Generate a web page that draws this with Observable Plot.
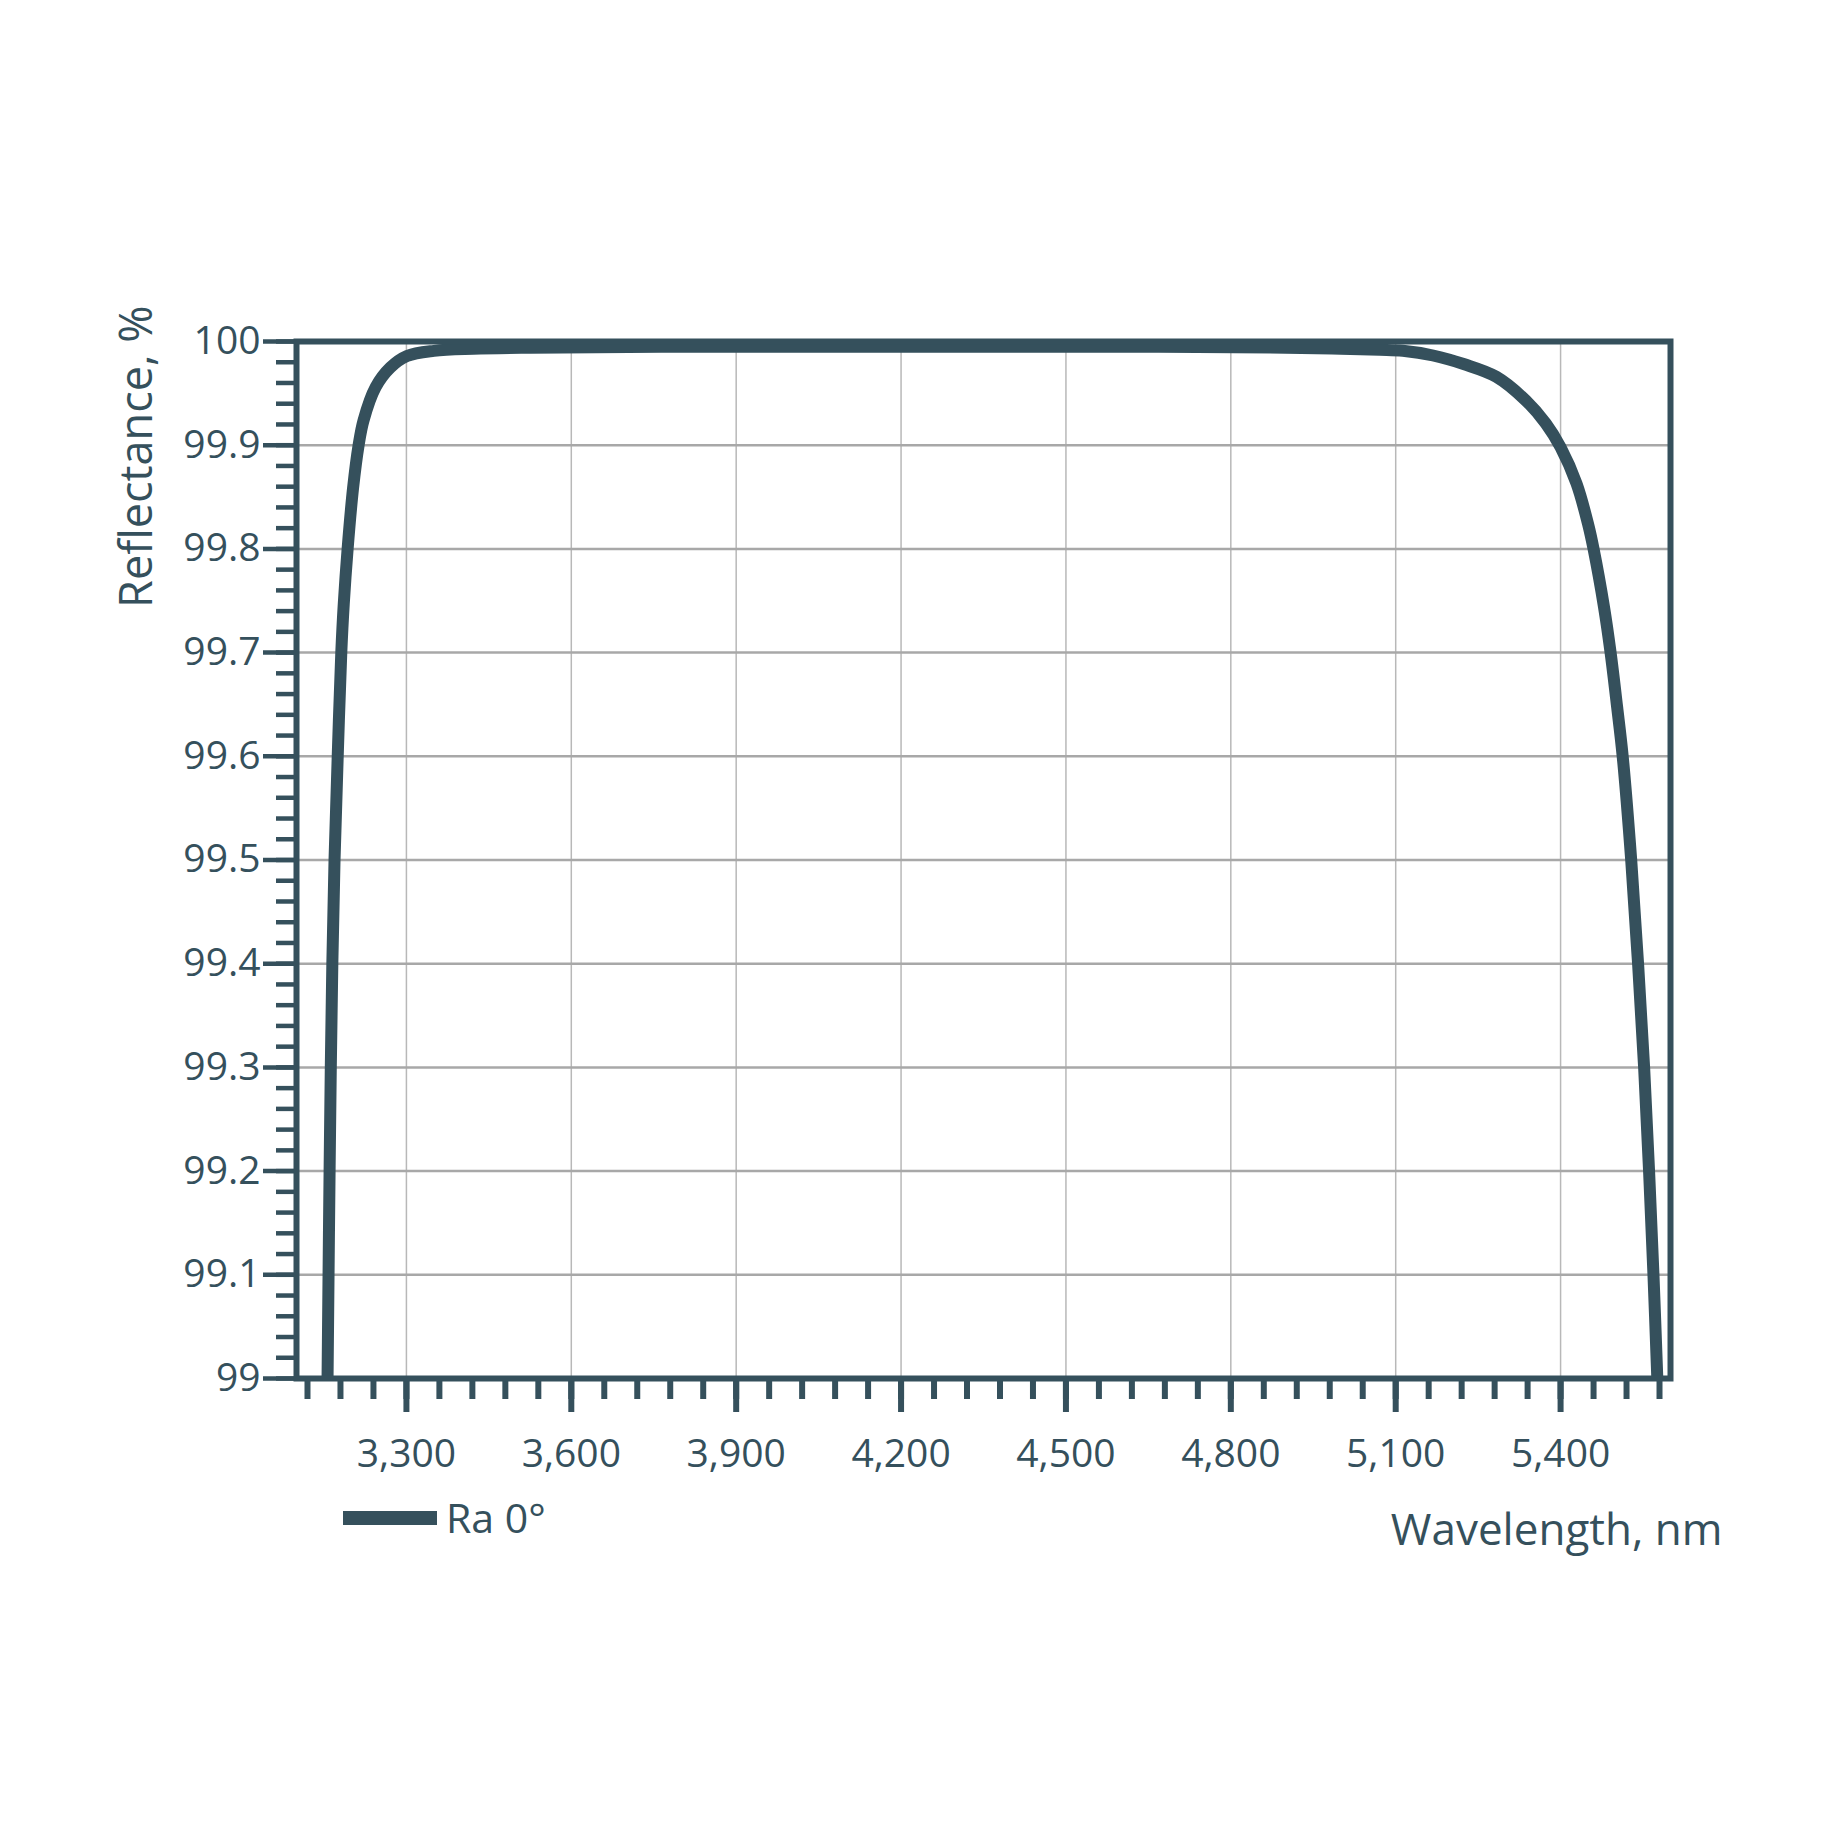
<!DOCTYPE html>
<html>
<head>
<meta charset="utf-8">
<script src="https://cdn.jsdelivr.net/npm/d3@7"></script>
<script src="https://cdn.jsdelivr.net/npm/@observablehq/plot@0.6"></script>
<style>
  html, body { margin: 0; padding: 0; background: #ffffff; overflow: hidden; }
  #wrap { position: relative; width: 1848px; height: 1848px; }
  #legend { position: absolute; left: 343px; top: 1497px; display: flex; align-items: center; gap: 9px;
            font-family: "Open Sans", sans-serif; font-size: 41px; line-height: 1; color: #35505c; }
  #legend .sw { width: 94px; height: 14px; background: #35505c; }
</style>
</head>
<body>
<div id="wrap"><div id="legend"><span class="sw"></span><span id="legendText"></span></div></div>
<script>
const ink = "#35505c";

// Series "Ra 0°": wavelength (nm) and reflectance (%)
const wavelength = [3156.5, 3158.3, 3160.2, 3162.4, 3165.2, 3169.2, 3175, 3181.5, 3186, 3193, 3203, 3213, 3222, 3244, 3271, 3301, 3350, 3422, 3525, 3800, 4200, 4600, 4900, 5000, 5071, 5113, 5168, 5225, 5283, 5337, 5373, 5400, 5429, 5450, 5460, 5479, 5491, 5503, 5513, 5528.5, 5541, 5552, 5561, 5569, 5576];
const reflectance = [99.0, 99.1, 99.2, 99.3, 99.4, 99.5, 99.6, 99.7, 99.747, 99.8, 99.859, 99.9, 99.924, 99.956, 99.975, 99.986, 99.991, 99.993, 99.994, 99.995, 99.995, 99.995, 99.994, 99.993, 99.992, 99.991, 99.9865, 99.978, 99.966, 99.943, 99.921, 99.898, 99.863, 99.824, 99.8, 99.744, 99.7, 99.647, 99.6, 99.5, 99.4, 99.3, 99.2, 99.1, 99.0];

const seriesName = "Ra 0°";
const xTitle = "Wavelength, nm";
const yTitle = "Reflectance, %";

const xDomain = [3100, 5600];
const yDomain = [99, 100];
const xMajorTicks = [3300, 3600, 3900, 4200, 4500, 4800, 5100, 5400];
const xMinorTicks = d3.range(3120, 5581, 60);
const yMajorTicks = [99, 99.1, 99.2, 99.3, 99.4, 99.5, 99.6, 99.7, 99.8, 99.9, 100];
const yMinorTicks = d3.range(0, 51).map(i => 99 + i * 0.02);

const data = wavelength.map((w, i) => ({w, r: reflectance[i]}));

const chart = Plot.plot({
  width: 1848,
  height: 1848,
  marginLeft: 296,
  marginRight: 178,
  marginTop: 341,
  marginBottom: 470,
  style: {fontFamily: "'Open Sans', sans-serif", color: ink, background: "transparent"},
  x: {domain: xDomain},
  y: {domain: yDomain},
  marks: [
    Plot.gridX(xMajorTicks, {stroke: "#b8b8b8", strokeWidth: 1.5, strokeOpacity: 1}),
    Plot.gridY(yMajorTicks.slice(1, -1), {stroke: "#a8a8a8", strokeWidth: 2.5, strokeOpacity: 1}),
    Plot.axisX(xMinorTicks, {tickSize: 21, strokeWidth: 6, stroke: ink, text: null, label: null}),
    Plot.axisX(xMajorTicks, {tickSize: 34, tickPadding: 27, strokeWidth: 6, stroke: ink, fill: ink,
      tickFormat: d3.format(","), fontSize: 39, label: null}),
    Plot.axisY(yMinorTicks, {tickSize: 20, strokeWidth: 4.5, stroke: ink, text: null, label: null}),
    Plot.axisY(yMajorTicks, {tickSize: 33, tickPadding: 3, strokeWidth: 4.5, stroke: ink, fill: ink,
      tickFormat: d => String(+d.toFixed(1)), fontSize: 39, label: null}),
    Plot.line(data, {x: "w", y: "r", stroke: ink, strokeWidth: 12, curve: "catmull-rom",
      strokeLinecap: "butt", strokeLinejoin: "round"}),
    Plot.frame({stroke: ink, strokeWidth: 6}),
    Plot.text([yTitle], {frameAnchor: "top-left", text: d => d, rotate: -90, textAnchor: "end",
      dx: -176, dy: -36, fontSize: 45, fill: ink}),
    Plot.text([xTitle], {frameAnchor: "bottom-right", text: d => d, textAnchor: "end",
      dx: 52, dy: 166, fontSize: 44, fill: ink})
  ]
});
chart.style.position = "absolute";
chart.style.left = "0px";
chart.style.top = "0px";
document.getElementById("wrap").prepend(chart);
document.getElementById("legendText").textContent = seriesName;
</script>
</body>
</html>
